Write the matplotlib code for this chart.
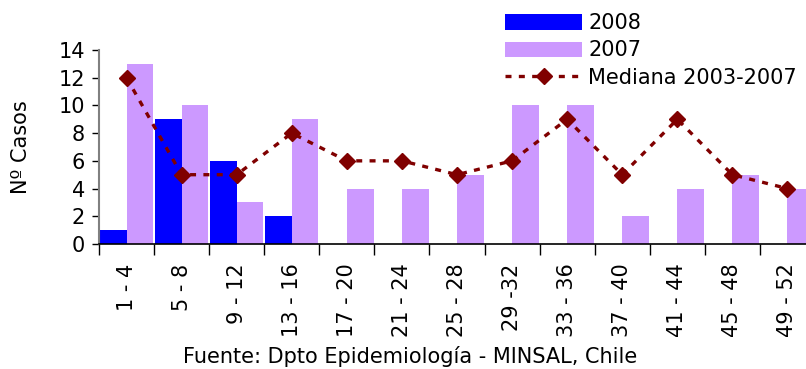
import numpy as np
import matplotlib
matplotlib.use("Agg")
import matplotlib.pyplot as plt
from matplotlib.ticker import FixedLocator

weeks = ["1 - 4", "5 - 8", "9 - 12", "13 - 16", "17 - 20", "21 - 24", "25 - 28",
         "29 -32", "33 - 36", "37 - 40", "41 - 44", "45 - 48", "49 - 52"]
cases_2008 = [1, 9, 6, 2, 0, 0, 0, 0, 0, 0, 0, 0, 0]
cases_2007 = [13, 10, 3, 9, 4, 4, 5, 10, 10, 2, 4, 5, 4]
median_03_07 = [12, 5, 5, 8, 6, 6, 5, 6, 9, 5, 9, 5, 4]

BLUE = "#0000FF"
LILAC = "#CC99FF"
DARKRED = "#800000"
FS = 15

plt.rcParams["font.family"] = "DejaVu Sans"

fig = plt.figure(figsize=(8.06, 3.69), dpi=100)
ax = fig.add_axes([0.1228, 0.3388, 0.8884, 0.5257])

x = np.arange(len(weeks))
w = 0.485
b08 = ax.bar(x - w / 2, cases_2008, width=w, color=BLUE, label="2008", zorder=2)
b07 = ax.bar(x + w / 2, cases_2007, width=w, color=LILAC, label="2007", zorder=2)
ln, = ax.plot(x, median_03_07, color=DARKRED, ls=(0, (1.8, 2.2)), lw=2.4,
              marker="D", ms=8.5, mec=DARKRED, mfc=DARKRED,
              label="Mediana 2003-2007", zorder=3)

ax.set_xlim(-0.5, len(weeks) - 0.5)
ax.set_ylim(0, 14)
ax.set_yticks(range(0, 15, 2))
ax.tick_params(axis="y", labelsize=FS, length=5, width=1, pad=5)

ax.xaxis.set_major_locator(FixedLocator(np.arange(len(weeks) + 1) - 0.5))
ax.xaxis.set_major_formatter(plt.NullFormatter())
ax.xaxis.set_minor_locator(FixedLocator(x))
ax.set_xticklabels(weeks, minor=True, rotation=90, fontsize=FS)
ax.tick_params(axis="x", which="major", length=8, width=1)
ax.tick_params(axis="x", which="minor", length=0, pad=14)

for s in ("top", "right"):
    ax.spines[s].set_visible(False)
ax.spines["left"].set_color("#808080")
ax.spines["left"].set_linewidth(1.5)
ax.spines["bottom"].set_linewidth(1.2)

ax.set_ylabel("Nº Casos", fontsize=FS, labelpad=20)

fig.legend([b08, b07, ln], ["2008", "2007", "Mediana 2003-2007"],
           loc="upper left", bbox_to_anchor=(0.606, 1.009), frameon=False,
           fontsize=FS, handlelength=3.7, handleheight=0.75,
           labelspacing=0.34, handletextpad=0.3, borderpad=0.3)

fig.text(0.509, 0.035, "Fuente: Dpto Epidemiología - MINSAL, Chile",
         ha="center", va="center", fontsize=FS)

fig.savefig("out.png", dpi=100, facecolor="white")
